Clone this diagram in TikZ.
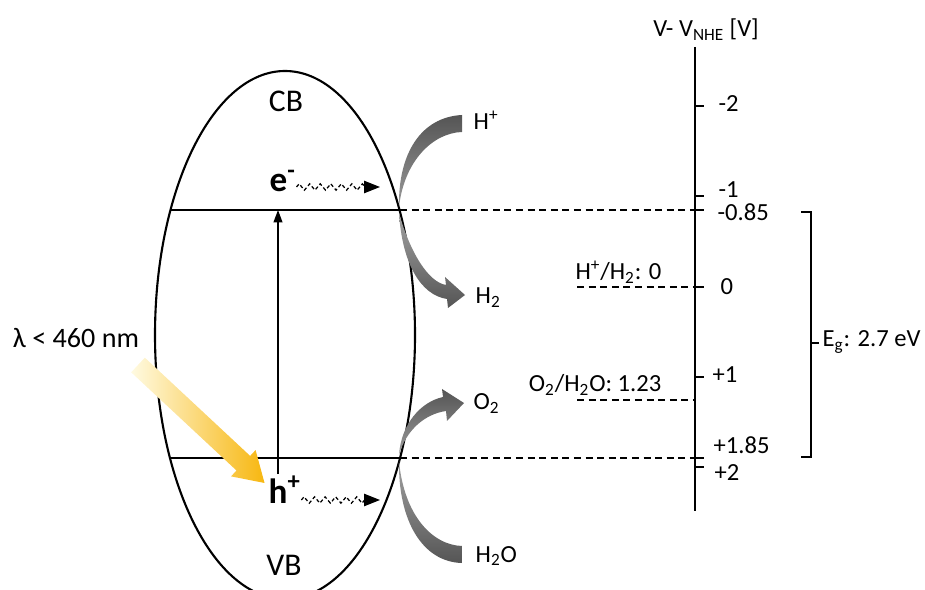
\documentclass[tikz,border=0pt]{standalone}
\usepackage{fontspec}
\setmainfont{Carlito}
\usetikzlibrary{arrows.meta,decorations.pathmorphing}

\definecolor{bandgray}{RGB}{85,85,85}
\definecolor{lightlo}{RGB}{255,250,225}
\definecolor{lighthi}{RGB}{247,183,16}

\begin{document}
\begin{tikzpicture}[x=0.02cm, y=-0.02cm, line width=0.8pt,
        lbl/.style={font=\fontsize{14}{16}\selectfont, inner sep=0pt},
        bandlbl/.style={font=\fontsize{18}{21}\selectfont, anchor=base, inner sep=0pt},
        carrier/.style={font=\fontsize{20}{22}\selectfont\bfseries, anchor=base west, inner sep=0pt},
        level/.style={line width=0.6pt, dash pattern=on 4pt off 2.6pt},
        hop/.style={line width=0.7pt, dash pattern=on 2pt off 1.4pt, decorate,
            decoration={zigzag, amplitude=1.8pt, segment length=6pt, post length=8pt},
            -{Triangle[length=9pt, width=7pt]}},
        redox/.style={shading=axis, shading angle=0}]
    \useasboundingbox (0,0) rectangle (925,590);
    \clip (0,0) rectangle (925,590);

    % Particle and band edges
    \draw[line width=1.2pt] (285,335) ellipse [x radius=130, y radius=264];
    \coordinate (cbL) at (170,210);
    \coordinate (cbR) at (400,210);
    \coordinate (vbL) at (171,458);
    \coordinate (vbR) at (400,458);
    \draw (cbL) -- (cbR);
    \draw (vbL) -- (vbR);
    \node[bandlbl] (cb) at (286,112) {CB};
    \node[bandlbl] (vb) at (284,575) {VB};

    % Carriers
    \node[carrier] (elec) at (269,192) {e\textsuperscript{-}};
    \node[carrier] (hole) at (268,503) {h\textsuperscript{+}};
    \coordinate (elecEnd) at (380,187);
    \coordinate (holeEnd) at (380,500);
    \draw[hop] (elec.east |- elecEnd) -- (elecEnd);
    \draw[hop] (hole.east |- holeEnd) -- (holeEnd);

    % Excitation
    \coordinate (exc) at (278,474);
    \draw[-{Triangle[length=7pt, width=5pt]}] (exc) -- (exc |- cbR);

    % Incident light
    \node[font=\fontsize{16}{18}\selectfont, anchor=base, inner sep=0pt] (light) at (76,348) {λ < 460 nm};
    \begin{scope}[shift={(138,365)}, rotate=-43]
        \shade[left color=lightlo, right color=lighthi] (0,-10) -- (144,-10) -- (144,-18) -- (173,0)
            -- (144,18) -- (144,10) -- (0,10) -- cycle;
    \end{scope}

    % Reduction: H+ -> H2
    \shade[redox, top color=bandgray, bottom color=bandgray!60] (399,207) .. controls (398,152) and (422,117) .. (462,115)
        -- (462,132) .. controls (432,133) and (404,162) .. (399,207) -- cycle;
    \shade[redox, top color=bandgray!55, bottom color=bandgray] (399,213) .. controls (402,262) and (420,295) .. (447,299)
        -- (448,308) -- (465,295) -- (445,277) -- (446,285) .. controls (428,282) and (410,252) .. (399,213) -- cycle;
    \node[lbl, anchor=base west] (hplus) at (473,130) {H\textsuperscript{+}};
    \node[lbl, anchor=base west] (htwo) at (475,304) {H\textsubscript{2}};

    % Oxidation: H2O -> O2
    \shade[redox, top color=bandgray!55, bottom color=bandgray] (399,461) .. controls (398,520) and (422,562) .. (462,563)
        -- (462,546) .. controls (432,545) and (404,515) .. (399,461) -- cycle;
    \shade[redox, top color=bandgray, bottom color=bandgray!60] (399,455) .. controls (401,425) and (420,402) .. (443,397)
        -- (442,389) -- (464,403) -- (447,421) -- (446,411) .. controls (425,414) and (406,430) .. (399,455) -- cycle;
    \node[lbl, anchor=base west] (otwo) at (473,410) {O\textsubscript{2}};
    \node[lbl, anchor=base west] (water) at (475,562) {H\textsubscript{2}O};

    % Potential axis
    \draw[line width=1.6pt] (695,47) coordinate (axTop) -- (695,511) coordinate (axBot);
    \node[lbl, anchor=base] (axTitle) at (706,37) {V- V\textsubscript{NHE} [V]};
    \foreach \ty/\tv/\lx/\ly [count=\i] in {106/-2/718/112, 196/-1/718/198, 210/-0.85/717/221,
            287/0/720/295, 377/+1/712/383, 458/+1.85/713/454, 467/+2/714/480}{
        \draw (695,\ty) coordinate (tick\i) -- ++(9,0);
        \node[lbl, anchor=base west] (tv\i) at (\lx,\ly) {\tv};
    }

    % Levels
    \draw[level] (cbR) -- (tick3);
    \draw[level] (vbR) -- (tick6);
    \coordinate (hLevel) at (577,287);
    \draw[level] (hLevel) -- (tick4);
    \coordinate (oLevel) at (577,400);
    \draw[level] (oLevel) -- (oLevel -| axTop);
    \node[lbl, anchor=base east] (hLbl) at (662,280) {H\textsuperscript{+}/H\textsubscript{2}: 0};
    \node[lbl, anchor=base east] (oLbl) at (662,392) {O\textsubscript{2}/H\textsubscript{2}O: 1.23};

    % Band gap
    \draw (801,212) coordinate (gapTop) -- (811,212) -- (811,457) -- (801,457) coordinate (gapBot);
    \draw (811,343) coordinate (gapMid) -- ++(8,0);
    \node[lbl, anchor=base west] (gap) at (822,347) {E\textsubscript{g}: 2.7 eV};
\end{tikzpicture}
\end{document}
